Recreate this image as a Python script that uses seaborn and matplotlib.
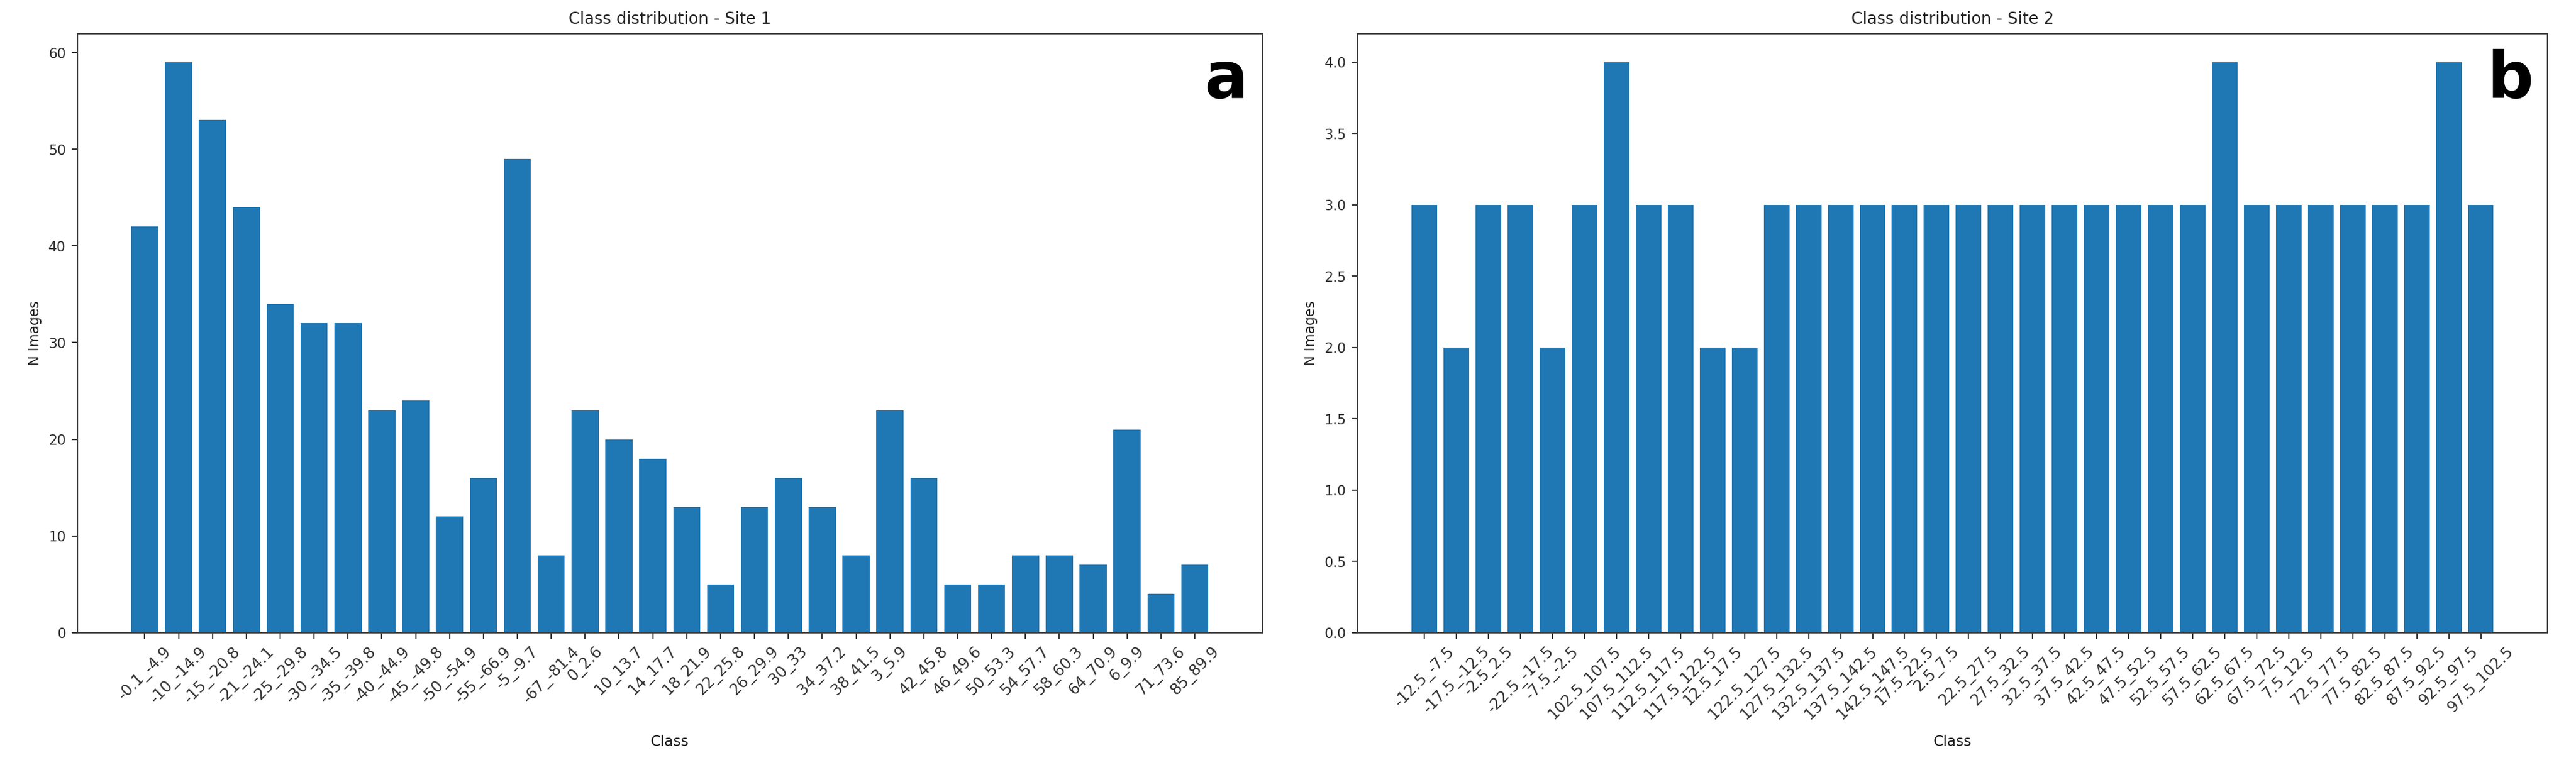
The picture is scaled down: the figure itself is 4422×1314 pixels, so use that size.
import matplotlib
matplotlib.use("Agg")
import matplotlib.pyplot as plt
import seaborn as sns

# Site 1 classes and counts
site1_classes = ['-0.1_-4.9', '-10_-14.9', '-15_-20.8', '-21_-24.1', '-25_-29.8', '-30_-34.5',
                 '-35_-39.8', '-40_-44.9', '-45_-49.8', '-50_-54.9', '-55_-66.9', '-5_-9.7',
                 '-67_-81.4', '0_2.6', '10_13.7', '14_17.7', '18_21.9', '22_25.8', '26_29.9',
                 '30_33', '34_37.2', '38_41.5', '3_5.9', '42_45.8', '46_49.6', '50_53.3',
                 '54_57.7', '58_60.3', '64_70.9', '6_9.9', '71_73.6', '85_89.9']
site1_counts = [42, 59, 53, 44, 34, 32, 32, 23, 24, 12, 16, 49, 8, 23, 20, 18, 13, 5, 13,
                16, 13, 8, 23, 16, 5, 5, 8, 8, 7, 21, 4, 7]

# Site 2 classes and counts
site2_classes = ['-12.5_-7.5', '-17.5_-12.5', '-2.5_2.5', '-22.5_-17.5', '-7.5_-2.5',
                 '102.5_107.5', '107.5_112.5', '112.5_117.5', '117.5_122.5', '12.5_17.5',
                 '122.5_127.5', '127.5_132.5', '132.5_137.5', '137.5_142.5', '142.5_147.5',
                 '17.5_22.5', '2.5_7.5', '22.5_27.5', '27.5_32.5', '32.5_37.5', '37.5_42.5',
                 '42.5_47.5', '47.5_52.5', '52.5_57.5', '57.5_62.5', '62.5_67.5', '67.5_72.5',
                 '7.5_12.5', '72.5_77.5', '77.5_82.5', '82.5_87.5', '87.5_92.5', '92.5_97.5',
                 '97.5_102.5']
site2_counts = [3, 2, 3, 3, 2, 3, 4, 3, 3, 2, 2, 3, 3, 3, 3, 3, 3, 3, 3, 3, 3, 3, 3, 3, 3,
                4, 3, 3, 3, 3, 3, 3, 4, 3]

plt.rcParams['font.family'] = ['DejaVu Sans']
plt.rcParams['text.color'] = '#222222'
plt.rcParams['axes.labelcolor'] = '#222222'
plt.rcParams['xtick.color'] = '#333333'
plt.rcParams['ytick.color'] = '#333333'
plt.rcParams['axes.edgecolor'] = '#444444'

fig = plt.figure(figsize=(22.11, 6.57), dpi=200)
ax1 = fig.add_axes([0.030, 0.173, 0.460, 0.783])
ax2 = fig.add_axes([0.527, 0.173, 0.462, 0.783])


def draw_panel(ax, classes, counts, title, letter):
    sns.barplot(x=classes, y=counts, ax=ax, color='#1f77b4', saturation=1,
                width=0.8, linewidth=0)
    n = len(classes)
    pad = 0.05 * (n - 0.2)
    ax.set_xlim(-0.4 - pad, n - 0.6 + pad)
    ax.set_ylim(0, max(counts) * 1.05)
    ax.set_title(title, fontsize=10)
    ax.set_xlabel('Class', fontsize=9)
    ax.set_ylabel('N Images', fontsize=8.5)
    ax.xaxis.set_label_coords(0.5, -0.17)
    ax.tick_params(axis='x', labelrotation=45, labelsize=9.5)
    ax.tick_params(axis='y', labelsize=8.5)
    for lbl in ax.get_xticklabels():
        lbl.set_ha('center')
    ax.text(0.988, 0.975, letter, transform=ax.transAxes, ha='right', va='top',
            fontsize=40, fontweight='bold', color='black')


draw_panel(ax1, site1_classes, site1_counts, 'Class distribution - Site 1', 'a')
draw_panel(ax2, site2_classes, site2_counts, 'Class distribution - Site 2', 'b')

fig.savefig('out.png', dpi=200)
plt.close(fig)
